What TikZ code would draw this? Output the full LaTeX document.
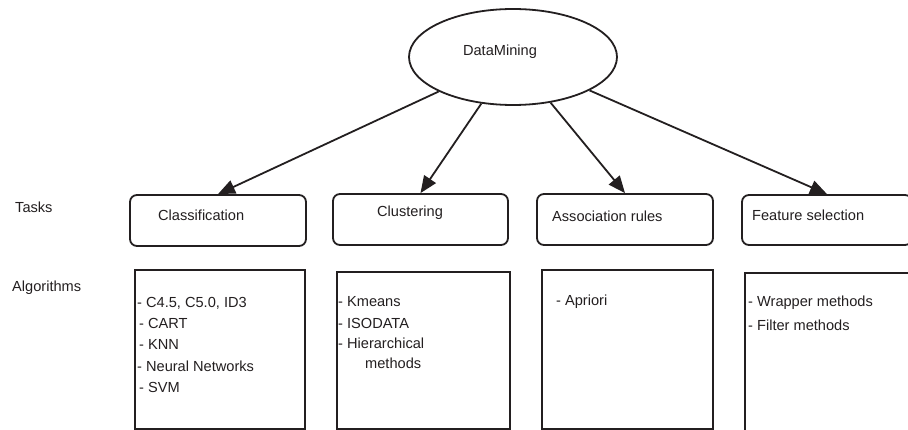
\documentclass[tikz,border=0pt]{standalone}
\usepackage{fontspec}
\setmainfont{Liberation Sans}
\usetikzlibrary{shapes.geometric,arrows.meta}
\definecolor{ink}{HTML}{231F20}
\begin{document}
\begin{tikzpicture}[x=1pt,y=-1pt,
  every node/.style={text=ink, font=\fontsize{14.6}{17}\selectfont},
  txt/.style={anchor=west, inner sep=0pt},
  rootell/.style={ellipse, draw=ink, line width=1.8pt, minimum width=208pt, minimum height=96pt, inner sep=0pt},
  taskbox/.style={rectangle, rounded corners=7pt, draw=ink, line width=1.8pt, inner sep=0pt},
  algbox/.style={rectangle, draw=ink, line width=1.8pt, inner sep=0pt},
  arr/.style={draw=ink, line width=1.8pt, -{Triangle[length=17pt,width=14pt]}}]
\useasboundingbox (0,0) rectangle (908,430);
\fill[white] (0,0) rectangle (908,430);

% root
\node[rootell] (dm) at (513,57) {};
\node[inner sep=0pt] (dmlabel) at (500,52) {DataMining};

% task boxes
\node[taskbox, minimum width=176pt, minimum height=51pt] (t1) at (218,220.5) {};
\node[taskbox, minimum width=175pt, minimum height=51pt] (t2) at (420.5,219.5) {};
\node[taskbox, minimum width=176pt, minimum height=51pt] (t3) at (625,219.5) {};
\node[taskbox, minimum width=170pt, minimum height=50pt] (t4) at (827,220) {};

\node[txt] (t1l) at (158,215) {Classification};
\node[txt] (t2l) at (377,213) {Clustering};
\node[txt] (t3l) at (552,216) {Association rules};
\node[txt] (t4l) at (752,215) {Feature selection};

% arrows
\draw[arr] (dm) -- (t1.north);
\draw[arr] (dm) -- (t2.north);
\draw[arr] (dm) -- (t3.north);
\draw[arr] (dm) -- (t4.north);

% row labels
\node[txt] (tasks) at (15,207) {Tasks};
\node[txt] (algs) at (12,288) {Algorithms};

% algorithm boxes
\node[algbox, minimum width=170pt, minimum height=159pt] (a1) at (220,349.5) {};
\node[algbox, minimum width=173pt, minimum height=157pt] (a2) at (423.5,350.5) {};
\node[algbox, minimum width=171pt, minimum height=159pt] (a3) at (627.5,349.5) {};
\node[algbox, minimum width=170pt, minimum height=172pt] (a4) at (830,359) {};

% algorithm lists
\node[txt] (a1i1) at (137,303) {- C4.5, C5.0, ID3};
\node[txt] (a1i2) at (139,323) {- CART};
\node[txt] (a1i3) at (139,344) {- KNN};
\node[txt] (a1i4) at (137,366) {- Neural Networks};
\node[txt] (a1i5) at (139,387) {- SVM};

\node[txt] (a2i1) at (338,302) {- Kmeans};
\node[txt] (a2i2) at (338,323) {- ISODATA};
\node[txt] (a2i3) at (338,343) {- Hierarchical};
\node[txt] (a2i4) at (365,363) {methods};

\node[txt] (a3i1) at (556,302) {- Apriori};

\node[txt] (a4i1) at (748,303) {- Wrapper methods};
\node[txt] (a4i2) at (748,325) {- Filter methods};
\end{tikzpicture}
\end{document}
